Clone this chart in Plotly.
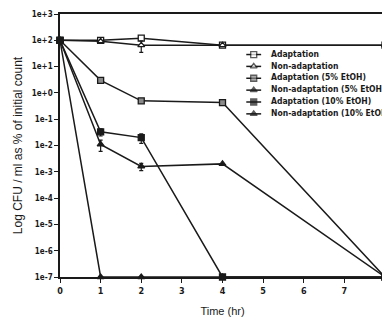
import plotly.graph_objects as go

time_hr = [0, 1, 2, 4, 8]

series_names = [
    "Adaptation",
    "Non-adaptation",
    "Adaptation (5% EtOH)",
    "Non-adaptation (5% EtOH)",
    "Adaptation (10% EtOH)",
    "Non-adaptation (10% EtOH)",
]

adaptation = [100, 100, 120, 65, 65]
non_adaptation = [100, 92, 65, 65, 65]
adaptation_5 = [100, 3.0, 0.5, 0.43, 1e-7]
non_adaptation_5 = [100, 0.011, 0.0016, 0.002, 1e-7]
adaptation_10 = [100, 0.033, 0.02, 1e-7, 1e-7]
non_adaptation_10 = [100, 1e-7, 1e-7, 1e-7, 1e-7]

err_adaptation = [0, 0, 0, 0, 0]
err_non_adaptation = [0, 0, 30, 0, 0]
err_adaptation_5 = [0, 0, 0, 0, 0]
err_non_adaptation_5 = [0, 0.005, 0.0005, 0, 0]
err_adaptation_10 = [0, 0.01, 0.008, 0, 0]
err_non_adaptation_10 = [0, 0, 0, 0, 0]

y_tick_vals = [1e3, 1e2, 1e1, 1e0, 1e-1, 1e-2, 1e-3, 1e-4, 1e-5, 1e-6, 1e-7]
y_tick_text = ["1e+3", "1e+2", "1e+1", "1e+0", "1e-1", "1e-2", "1e-3",
               "1e-4", "1e-5", "1e-6", "1e-7"]
x_tick_vals = [0, 1, 2, 3, 4, 5, 6, 7, 8]

all_values = [adaptation, non_adaptation, adaptation_5, non_adaptation_5,
              adaptation_10, non_adaptation_10]
all_errors = [err_adaptation, err_non_adaptation, err_adaptation_5,
              err_non_adaptation_5, err_adaptation_10, err_non_adaptation_10]

ink = "#1a1a1a"
narrow = "DejaVu Sans Condensed, Liberation Sans, sans-serif"
styles = [
    dict(symbol="square", color="white"),
    dict(symbol="triangle-up", color="white"),
    dict(symbol="square", color="#8a8a8a"),
    dict(symbol="triangle-up", color=ink),
    dict(symbol="square", color=ink),
    dict(symbol="triangle-up", color=ink),
]

fig = go.Figure()
for name, vals, errs, st in zip(series_names, all_values, all_errors, styles):
    fig.add_trace(go.Scatter(
        x=time_hr, y=vals, name=name, mode="lines+markers",
        line=dict(color=ink, width=1.5),
        marker=dict(symbol=st["symbol"], size=6, color=st["color"],
                    line=dict(color=ink, width=1.3)),
        error_y=dict(type="data", array=errs, visible=True,
                     color=ink, thickness=1.2, width=2),
        cliponaxis=False, showlegend=False,
    ))

# page body has an 8px margin; lay out in page pixels and shift
OFF = 8
W, H = 390 - OFF, 320 - OFF
L, R, T, B = 60 - OFF, 388 - OFF, 11 - OFF, 277 - OFF

# compact legend drawn on an overlay axis measured in pixels
legend_x0, legend_x1, legend_text_x = 248 - OFF, 263 - OFF, 273 - OFF
legend_row0, legend_step = 52 - OFF, 12
for i, (name, st) in enumerate(zip(series_names, styles)):
    yy = legend_row0 + legend_step * i
    fig.add_trace(go.Scatter(
        x=[legend_x0, (legend_x0 + legend_x1) / 2, legend_x1], y=[yy, yy, yy],
        xaxis="x2", yaxis="y2", mode="lines+markers",
        line=dict(color=ink, width=1.5),
        marker=dict(symbol=st["symbol"], size=[0, 6, 0], color=st["color"],
                    line=dict(color=ink, width=1.3)),
        showlegend=False, hoverinfo="skip", cliponaxis=False,
    ))
    fig.add_trace(go.Scatter(
        x=[legend_text_x], y=[yy], xaxis="x2", yaxis="y2", mode="text",
        text=[name], textposition="middle right",
        textfont=dict(family=narrow, size=8.5, color=ink, weight="bold"),
        showlegend=False, hoverinfo="skip", cliponaxis=False,
    ))

fig.update_layout(
    width=W, height=H,
    margin=dict(l=L, r=W - R, t=T, b=H - B, pad=0),
    paper_bgcolor="white", plot_bgcolor="white",
    showlegend=False,
    font=dict(family="Liberation Sans", color=ink),
    xaxis=dict(
        range=[0, 8], tickvals=x_tick_vals, ticks="outside", ticklen=4,
        tickwidth=1.2, tickcolor=ink, showline=True, linecolor=ink,
        linewidth=1.5, mirror=True, showgrid=False, zeroline=False,
        ticklabeloverflow="allow",
        tickfont=dict(family=narrow, size=9, color=ink, weight="bold"),
        title=dict(text="Time (hr)", standoff=13,
                   font=dict(family="Liberation Sans", size=11, color=ink)),
    ),
    yaxis=dict(
        type="log", range=[-7, 3], tickvals=y_tick_vals, ticktext=y_tick_text,
        ticks="outside", ticklen=4, tickwidth=1.2, tickcolor=ink,
        showline=True, linecolor=ink, linewidth=1.5, showgrid=False,
        zeroline=False, ticklabeloverflow="allow",
        tickfont=dict(family=narrow, size=8, color=ink, weight="bold"),
        title=dict(text="Log CFU / ml as % of initial count", standoff=7,
                   font=dict(family="Liberation Sans", size=12, color=ink)),
    ),
    xaxis2=dict(domain=[0, 1], range=[L, R], overlaying="x", visible=False,
                fixedrange=True),
    yaxis2=dict(domain=[0, 1], range=[B, T], overlaying="y", visible=False,
                fixedrange=True, anchor="x2"),
)

fig.write_html("out.html")
